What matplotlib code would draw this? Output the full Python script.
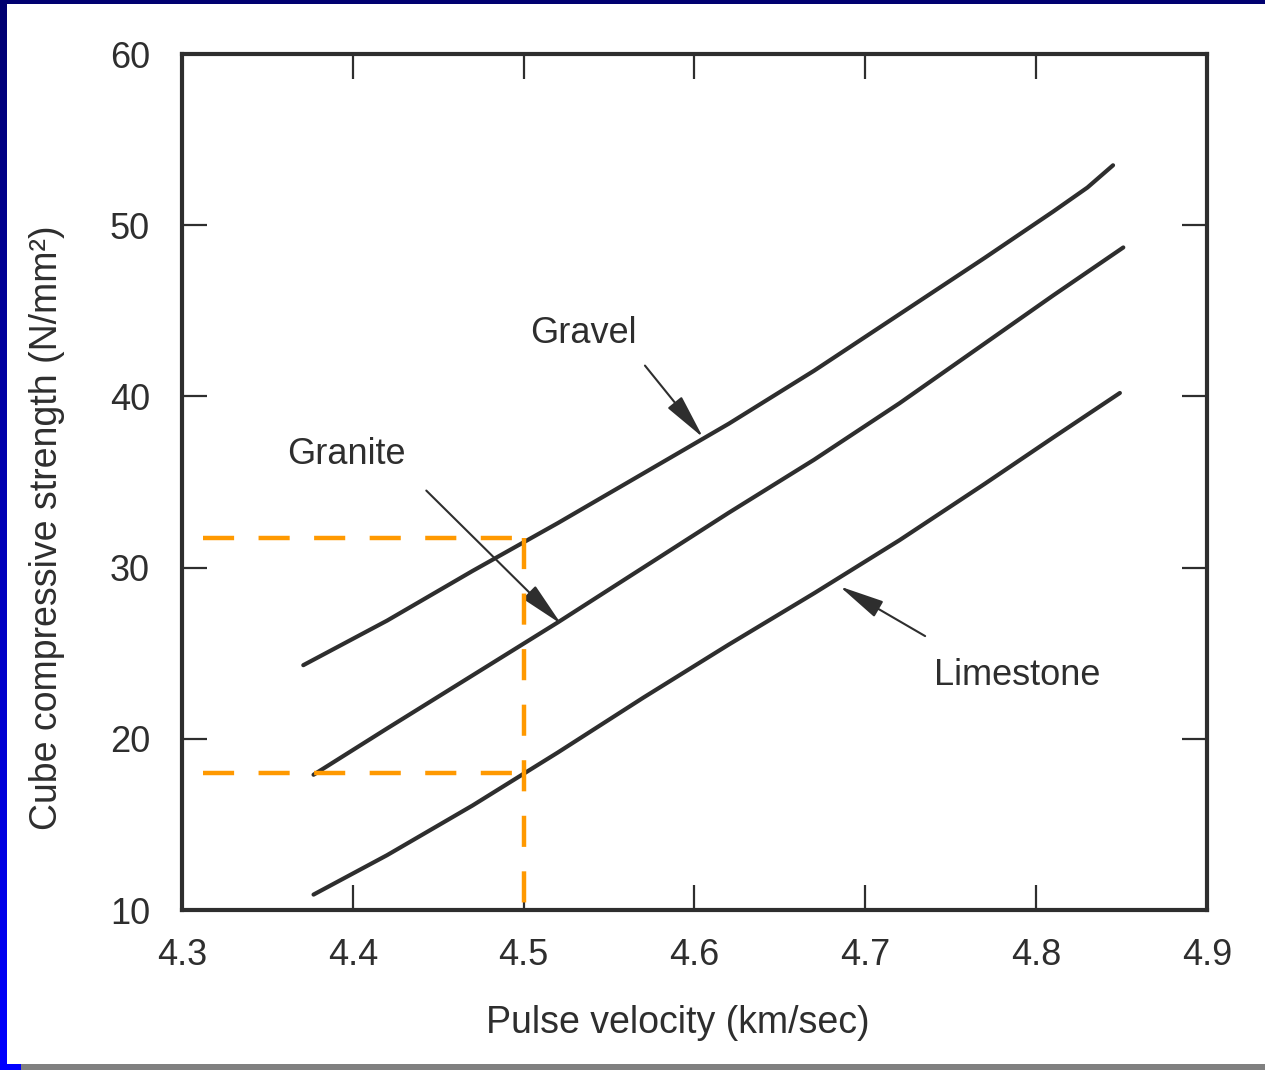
import matplotlib
matplotlib.use('Agg')
import matplotlib.pyplot as plt
import numpy as np
from matplotlib.patches import Rectangle
from matplotlib.colors import LinearSegmentedColormap

plt.rcParams['font.family'] = ['Liberation Sans', 'DejaVu Sans']

# ---- data ----
gravel_x = [4.371, 4.42, 4.47, 4.52, 4.57, 4.62, 4.67, 4.72, 4.77, 4.81, 4.83, 4.845]
gravel_y = [24.3, 26.9, 29.8, 32.6, 35.5, 38.4, 41.5, 44.8, 48.1, 50.8, 52.2, 53.5]

granite_x = [4.377, 4.42, 4.47, 4.52, 4.57, 4.62, 4.67, 4.72, 4.77, 4.81, 4.851]
granite_y = [17.9, 20.6, 23.7, 26.8, 30.0, 33.2, 36.3, 39.6, 43.1, 45.9, 48.7]

limestone_x = [4.377, 4.42, 4.47, 4.52, 4.57, 4.62, 4.67, 4.72, 4.77, 4.81, 4.849]
limestone_y = [10.9, 13.2, 16.1, 19.2, 22.4, 25.5, 28.5, 31.6, 34.9, 37.6, 40.2]

x_ticks = [4.3, 4.4, 4.5, 4.6, 4.7, 4.8, 4.9]
x_tick_labels = ['4.3', '4.4', '4.5', '4.6', '4.7', '4.8', '4.9']
y_ticks = [10, 20, 30, 40, 50, 60]
y_tick_labels = ['10', '20', '30', '40', '50', '60']

# guide lines (orange dashed)
guide_x = 4.5
guide_x_start = 4.312
guide_upper_y = 31.7
guide_lower_y = 18.0

labels = ['Gravel', 'Granite', 'Limestone']
label_text_xy = [(4.535, 43.7), (4.396, 36.6), (4.789, 23.7)]
label_arrow_start = [(4.571, 41.8), (4.443, 34.5), (4.735, 26.0)]
label_arrow_tip = [(4.605, 37.6), (4.522, 26.7), (4.685, 28.9)]

ink = '#2e2e2e'
orange = '#FF9900'

fig = plt.figure(figsize=(12.65, 10.70), dpi=100)
fig.patch.set_facecolor('white')

ax = fig.add_axes([182 / 1265, 1 - 910 / 1070, (1207 - 182) / 1265, (910 - 54) / 1070])
ax.set_xlim(4.3, 4.9)
ax.set_ylim(10, 60)

for xs, ys in [(gravel_x, gravel_y), (granite_x, granite_y), (limestone_x, limestone_y)]:
    ax.plot(xs, ys, color=ink, lw=3.0, solid_capstyle='round', solid_joinstyle='round', zorder=3)

dash = (7, 5.5)
ax.plot([guide_x_start, guide_x], [guide_upper_y, guide_upper_y], color=orange, lw=3.2,
        linestyle=(0, dash), zorder=4)
ax.plot([guide_x_start, guide_x], [guide_lower_y, guide_lower_y], color=orange, lw=3.2,
        linestyle=(0, dash), zorder=4)
ax.plot([guide_x, guide_x], [guide_upper_y, 10], color=orange, lw=3.2,
        linestyle=(0, dash), zorder=4)

for lab, txy, a0, a1 in zip(labels, label_text_xy, label_arrow_start, label_arrow_tip):
    ax.text(txy[0], txy[1], lab, fontsize=26, color=ink, ha='center', va='center')
    ax.annotate('', xy=a1, xytext=a0,
                arrowprops=dict(arrowstyle='-|>,head_length=1.0,head_width=0.2',
                                mutation_scale=28, lw=1.5, color=ink,
                                shrinkA=0, shrinkB=0))

ax.set_xticks(x_ticks)
ax.set_xticklabels(x_tick_labels)
ax.set_yticks(y_ticks)
ax.set_yticklabels(y_tick_labels)
ax.tick_params(direction='in', length=18, width=1.6, color=ink, top=True, right=True,
               labelsize=26, labelcolor=ink)
ax.tick_params(axis='x', pad=20)
ax.tick_params(axis='y', pad=23)

for s in ax.spines.values():
    s.set_linewidth(3.0)
    s.set_color(ink)

ax.set_xlabel('Pulse velocity (km/sec)', fontsize=27, color=ink, va='center')
ax.xaxis.set_label_coords((678 - 182) / 1025, (910 - 1023) / 856)
ax.set_ylabel('Cube compressive strength (N/mm²)', fontsize=27, color=ink, va='center')
ax.yaxis.set_label_coords((47 - 182) / 1025, (910 - 528) / 856)

# slide frame: top navy band, left blue gradient band, bottom grey band
W, H = 1265, 1070
fig.add_artist(Rectangle((0, 1 - 4 / H), 1, 4 / H, transform=fig.transFigure,
                         facecolor='#000070', edgecolor='none', zorder=10))
gax = fig.add_axes([0, 0, 6 / W, 1])
grad = np.linspace(0, 1, 256).reshape(-1, 1)
cmap = LinearSegmentedColormap.from_list('b', ['#000070', '#0000FF'])
gax.imshow(grad, aspect='auto', cmap=cmap, extent=[0, 1, 0, 1], origin='upper')
gax.set_axis_off()
fig.add_artist(Rectangle((21 / W, 0), 1, 6 / H, transform=fig.transFigure,
                         facecolor='#808080', edgecolor='none', zorder=10))
fig.add_artist(Rectangle((0, 0), 21 / W, 6 / H, transform=fig.transFigure,
                         facecolor='#0000FF', edgecolor='none', zorder=10))

fig.savefig('out.png', dpi=100)
